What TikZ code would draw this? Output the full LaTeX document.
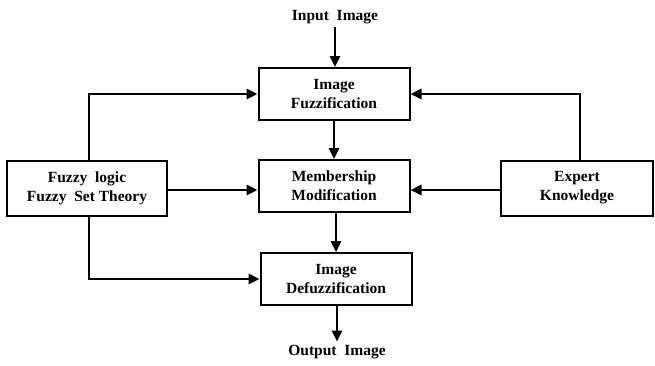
\documentclass[tikz,border=0pt]{standalone}
\usepackage{fontspec}
\setmainfont{Liberation Serif}
\usetikzlibrary{arrows.meta}
\begin{document}
\begin{tikzpicture}[x=1pt,y=-1pt,
  blk/.style={draw,line width=2pt,minimum width=151pt,minimum height=52pt,align=center,inner sep=0pt,font=\fontsize{15.5}{19}\selectfont\bfseries},
  lbl/.style={font=\fontsize{15.5}{18}\selectfont\bfseries},
  arr/.style={line width=2.6pt,-{Triangle[length=11pt,width=10pt]}}]
\useasboundingbox (0,0) rectangle (655,365);
\node[blk] (fz) at (334,94) {Image\\Fuzzification};
\node[blk] (mm) at (334,186) {Membership\\Modification};
\node[blk] (df) at (336,279) {Image\\Defuzzification};
\node[blk,minimum width=160pt,minimum height=55pt] (fl) at (87,188) {Fuzzy~ logic\\Fuzzy~ Set Theory};
\node[blk,minimum width=152pt,minimum height=55pt] (ek) at (577,188) {Expert\\Knowledge};
\node[lbl] (in) at (335,17) {Input~ Image};
\node[lbl] (out) at (337,352) {Output~ Image};
\draw[arr] (in) -- (in |- fz.north);
\draw[arr] (fz) -- (fz |- mm.north);
\draw[arr] (336,212) -- (df.north);
\draw[arr] (df.south -| out) -- (out);
\draw[arr] (89,161) |- (fz.west);
\draw[arr] (89,215) |- (df.west);
\draw[arr] (fl.east |- 0,190) -- (mm.west |- 0,190);
\draw[arr] (580,161) |- (fz.east);
\draw[arr] (ek.west |- 0,190) -- (mm.east |- 0,190);
\end{tikzpicture}
\end{document}
